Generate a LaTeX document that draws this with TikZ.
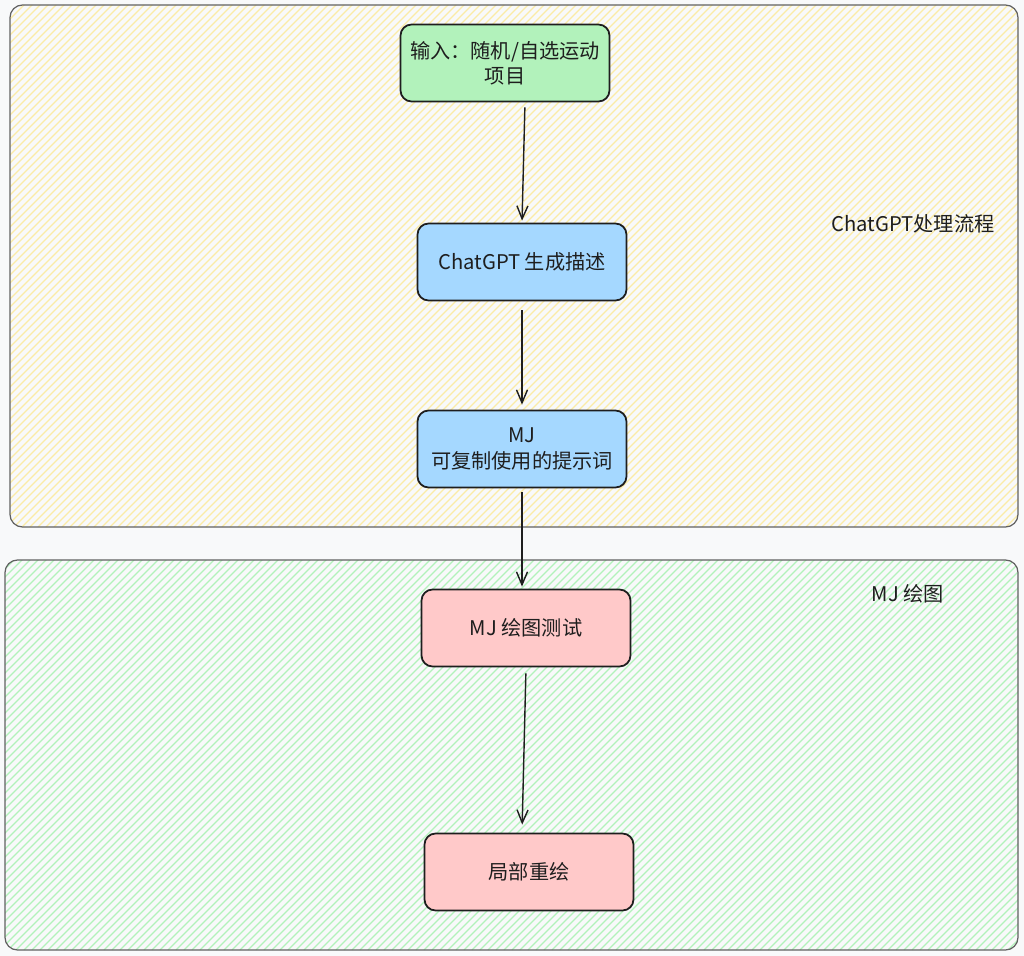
\documentclass[tikz,border=0pt]{standalone}
\usepackage{fontspec}
\setmainfont{Noto Sans CJK SC}
\usepackage{xcolor}
\usetikzlibrary{arrows.meta}
\definecolor{exBg}{HTML}{F8F9FA}
\definecolor{exYellow}{HTML}{FBEBA6}
\definecolor{exGreen}{HTML}{B2F2BB}
\definecolor{exBlue}{HTML}{A5D8FF}
\definecolor{exRed}{HTML}{FFC9C9}
\definecolor{exInk}{HTML}{1E1E1E}

\begin{document}
\begin{tikzpicture}[x=0.02cm, y=-0.02cm,
    group/.style={draw=exInk!70, line width=0.7pt, rounded corners=0.25cm},
    hatch/.style={line width=0.7pt},
    box/.style={draw=exInk, line width=1pt, rounded corners=0.22cm, minimum width=4.18cm,
                minimum height=1.54cm, inner sep=0pt, align=center, text=exInk,
                font=\fontsize{11.5}{14}\selectfont},
    grp/.style={font=\fontsize{11.5}{14}\selectfont, text=exInk},
    flow/.style={draw=exInk, line width=0.8pt, -{Straight Barb[length=2.6mm, width=2.2mm]}}
  ]
  \fill[exBg] (0,0) rectangle (1024,956);
  \useasboundingbox (0,0) rectangle (1024,956);

  % ChatGPT group
  \begin{scope}
    \clip[rounded corners=0.25cm] (10,5) rectangle (1018,527);
    \foreach \s in {-530,-522,...,1018}
      \draw[hatch, exYellow] (\s,527) -- ++(530,-530);
  \end{scope}
  \draw[group] (10,5) rectangle (1018,527);
  \node[grp] (gptlabel) at (913,224) {ChatGPT处理流程};

  % MJ group
  \begin{scope}
    \clip[rounded corners=0.25cm] (5,560) rectangle (1018,950);
    \foreach \s in {-392,-384,...,1018}
      \draw[hatch, exGreen] (\s,950) -- ++(392,-392);
  \end{scope}
  \draw[group] (5,560) rectangle (1018,950);
  \node[grp] (mjlabel) at (908,594) {MJ 绘图};

  % steps
  \node[box, fill=exGreen] (input) at (505,63) {输入：随机/自选运动\\项目};
  \node[box, fill=exBlue] (gpt) at (522,262) {ChatGPT 生成描述};
  \node[box, fill=exBlue] (prompt) at (522,449) {MJ\\[1pt]可复制使用的提示词};
  \node[box, fill=exRed] (test) at (526,628) {MJ 绘图测试};
  \node[box, fill=exRed] (redraw) at (529,872) {局部重绘};

  \draw[flow, shorten <=0.1cm, shorten >=0.04cm] ([xshift=0.4cm]input.south) -- (gpt.north);
  \draw[flow, shorten <=0.18cm, shorten >=0.1cm] (gpt) -- (prompt);
  \draw[flow, shorten <=0.08cm, shorten >=0.04cm] (prompt.south) -- (prompt.south |- test.north);
  \draw[flow, shorten <=0.12cm, shorten >=0.16cm] (test.south) -- ([xshift=-0.14cm]redraw.north);
\end{tikzpicture}
\end{document}
